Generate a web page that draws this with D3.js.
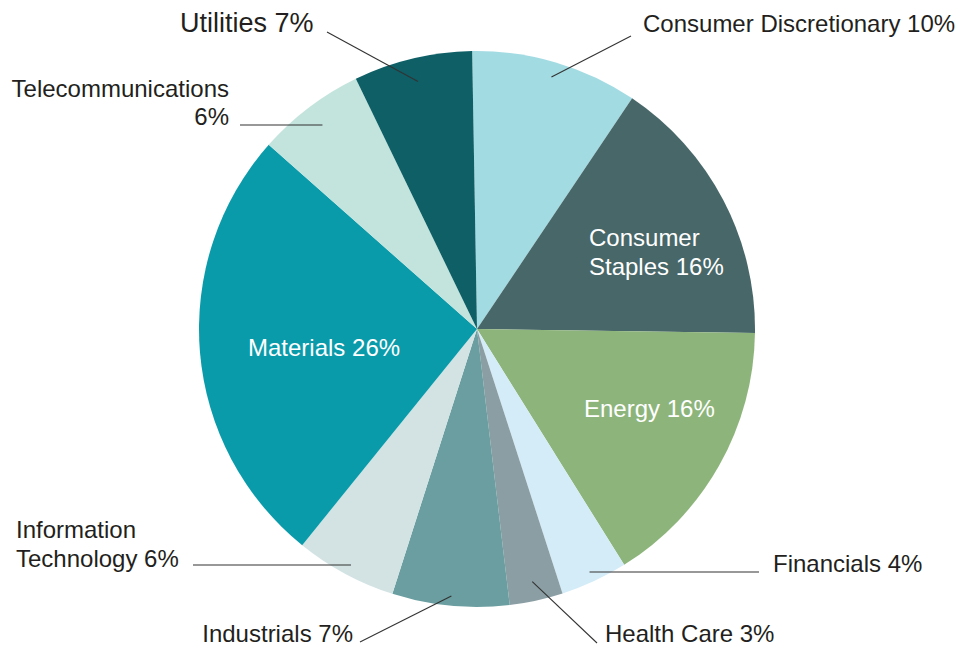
<!DOCTYPE html>
<html>
<head>
<meta charset="utf-8">
<script src="https://cdn.jsdelivr.net/npm/d3@7"></script>
<style>
  body { margin: 0; background: #fff; }
  text { font-family: "Liberation Sans", Arial, Helvetica, sans-serif; font-size: 24px; }
</style>
</head>
<body>
<svg width="960" height="647"></svg>
<script>
var sectors = ["Consumer Discretionary", "Consumer Staples", "Energy", "Financials", "Health Care",
               "Industrials", "Information Technology", "Materials", "Telecommunications", "Utilities"];
var weights = [9.7, 15.8, 15.9, 3.9, 3.1, 6.8, 5.9, 25.7, 6.3, 6.9];
var colors = ["#a3dbe3", "#486769", "#8db57b", "#d4ecf8", "#8a9ea3",
              "#6a9ea0", "#d3e3e3", "#0a9bab", "#c3e4dc", "#0e5f66"];

// label layout: text lines, anchor, position, leader outer end, leader radius factor
var layout = {
  "Consumer Discretionary": { lines: ["{n} {p}"], x: 643, y: 32, anchor: "start", lx: 631, ly: 36, rf: 0.945 },
  "Consumer Staples": { lines: ["Consumer", "Staples {p}"], x: 589, y: 246, anchor: "start", inside: true },
  "Energy": { lines: ["{n} {p}"], x: 584, y: 417, anchor: "start", inside: true },
  "Financials": { lines: ["{n} {p}"], x: 773, y: 572, anchor: "start", lx: 759, ly: 572, rf: 0.96, flat: true },
  "Health Care": { lines: ["{n} {p}"], x: 605, y: 642, anchor: "start", lx: 597, ly: 643, rf: 0.93 },
  "Industrials": { lines: ["{n} {p}"], x: 353, y: 642, anchor: "end", lx: 360, ly: 642, rf: 0.965 },
  "Information Technology": { lines: ["Information", "Technology {p}"], x: 16, y: 538, anchor: "start", lx: 193, ly: 565, rf: 0.955, flat: true },
  "Materials": { lines: ["{n} {p}"], x: 248, y: 356, anchor: "start", inside: true },
  "Telecommunications": { lines: ["Telecommunications", "{p}"], x: 229, y: 97, anchor: "end", lx: 240, ly: 125, gap: 28, rf: 0.92, flat: true },
  "Utilities": { lines: ["{n} {p}"], x: 180, y: 32, anchor: "start", lx: 327, ly: 32, rf: 0.915, size: 27 }
};

var svg = d3.select("svg"),
    cx = 477, cy = 329, r = 278;

var color = d3.scaleOrdinal().domain(sectors).range(colors);

var pie = d3.pie()
  .sort(null)
  .value(d => d.value)
  .startAngle(-Math.PI / 180)
  .endAngle(-Math.PI / 180 + 2 * Math.PI);

var data = sectors.map((s, i) => ({ name: s, value: weights[i] }));
var arcs = pie(data);

var arc = d3.arc().innerRadius(0).outerRadius(r);

function tip(d) {
  var L = layout[d.data.name], rr = r * L.rf;
  var p = d3.arc().innerRadius(rr).outerRadius(rr).centroid(d);
  return [cx + p[0], L.flat ? L.ly : cy + p[1]];
}

var g = svg.append("g").attr("transform", "translate(" + cx + "," + cy + ")");

g.selectAll("path")
  .data(arcs)
  .enter()
  .append("path")
  .attr("fill", d => color(d.data.name))
  .attr("d", arc);

// leader lines
svg.append("g")
  .attr("stroke", "#333")
  .attr("stroke-width", 1.1)
  .selectAll("line")
  .data(arcs.filter(d => !layout[d.data.name].inside))
  .enter()
  .append("line")
  .attr("x1", d => tip(d)[0])
  .attr("y1", d => tip(d)[1])
  .attr("x2", d => layout[d.data.name].lx)
  .attr("y2", d => layout[d.data.name].ly);

// labels
var labels = svg.append("g")
  .selectAll("text")
  .data(arcs)
  .enter()
  .append("text")
  .attr("fill", d => layout[d.data.name].inside ? "#fff" : "#231f20")
  .attr("text-anchor", d => layout[d.data.name].anchor)
  .style("font-size", d => (layout[d.data.name].size || 24) + "px");

labels.each(function(d) {
  var L = layout[d.data.name],
      p = Math.round(d.data.value) + "%";
  d3.select(this).selectAll("tspan")
    .data(L.lines)
    .enter()
    .append("tspan")
    .attr("x", L.x)
    .attr("y", (t, i) => L.y + i * (L.gap || 29))
    .text(t => t.replace("{n}", d.data.name).replace("{p}", p));
});
</script>
</body>
</html>
